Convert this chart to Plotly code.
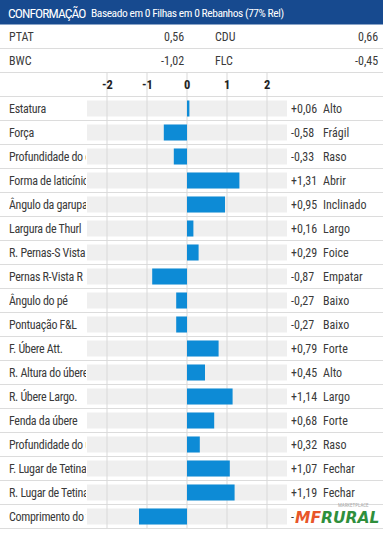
import plotly.graph_objects as go

# ---------------- data ----------------
title_main = "CONFORMAÇÃO"
title_sub = "Baseado em 0 Filhas em 0 Rebanhos (77% Rel)"

summary_left_names = ["PTAT", "BWC"]
summary_left_values = ["0,56", "-1,02"]
summary_right_names = ["CDU", "FLC"]
summary_right_values = ["0,66", "-0,45"]

traits = [
    "Estatura", "Força", "Profundidade do corpo", "Forma de laticínio",
    "Ângulo da garupa", "Largura de Thurl", "R. Pernas-S Vista",
    "Pernas R-Vista R", "Ângulo do pé", "Pontuação F&L", "F. Úbere Att.",
    "R. Altura do úbere", "R. Úbere Largo.", "Fenda da úbere",
    "Profundidade do úbere", "F. Lugar de Tetina", "R. Lugar de Tetina",
    "Comprimento do teto",
]
values = [0.06, -0.58, -0.33, 1.31, 0.95, 0.16, 0.29, -0.87, -0.27, -0.27,
          0.79, 0.45, 1.14, 0.68, 0.32, 1.07, 1.19, -1.20]
descriptors = ["Alto", "Frágil", "Raso", "Abrir", "Inclinado", "Largo", "Foice",
               "Empatar", "Baixo", "Baixo", "Forte", "Alto", "Largo", "Forte",
               "Raso", "Fechar", "Fechar", ""]
tick_values = [-2, -1, 0, 1, 2]
tick_labels = ["-2", "-1", "0", "1", "2"]

# ---------------- layout constants ----------------
W, H = 383, 533
ZERO_PX, UNIT_PX = 187, 40
ROW_PX, ROW0_PX = 24, 12.5
FIRST_TRAIT_ROW = 4
BAR_W = 16 / 24
FONT = "Roboto Condensed, DejaVu Sans Condensed, Roboto, sans-serif"
TXT = "#3a3a3a"
BLUE = "#0d8bd6"
GRID = "#d9d9d9"

def px(xp):
    return xp / W

def tight(s, ls):
    return "<span style='letter-spacing:%spx'>%s</span>" % (ls, s)

rows = [FIRST_TRAIT_ROW + i for i in range(len(traits))]
last_row = rows[-1]

fig = go.Figure()

fig.add_trace(go.Bar(
    x=values, y=rows, base=0, orientation="h", width=BAR_W,
    marker=dict(color=BLUE, line=dict(width=0)), hoverinfo="skip",
    showlegend=False,
))

shapes = []
# header band
shapes.append(dict(type="rect", xref="paper", yref="y", x0=0, x1=1,
                   y0=-0.6, y1=0.5, fillcolor="#174a8f", line=dict(width=0),
                   layer="below"))
# grey backgrounds
for r in rows:
    shapes.append(dict(type="rect", xref="x", yref="y", x0=-2.5, x1=2.5,
                       y0=r - BAR_W / 2, y1=r + BAR_W / 2,
                       fillcolor="#efefef", line=dict(width=0), layer="between"))
# vertical gridlines
for t in tick_values:
    shapes.append(dict(type="line", xref="x", yref="y", x0=t, x1=t,
                       y0=2.5, y1=last_row + 0.5,
                       line=dict(color=GRID, width=1), layer="between"))
# row separators
for r in range(1, last_row + 1):
    shapes.append(dict(type="line", xref="paper", yref="y", x0=0, x1=1,
                       y0=r + 0.5, y1=r + 0.5,
                       line=dict(color="#dcdcdc", width=1), layer="between"))

ann = []
ann.append(dict(xref="paper", yref="y", x=px(6), y=0, xanchor="left",
                yanchor="middle", showarrow=False,
                text=tight(title_main, -0.9),
                font=dict(family=FONT, size=13.5, color="white")))
ann.append(dict(xref="paper", yref="y", x=px(89), y=0, xanchor="left",
                yanchor="middle", showarrow=False,
                text=tight(title_sub, -0.45),
                font=dict(family=FONT, size=11.5, color="white")))

for i in range(2):
    r = 1 + i
    ann.append(dict(xref="paper", yref="y", x=px(7), y=r, xanchor="left",
                    yanchor="middle", showarrow=False, text=summary_left_names[i],
                    font=dict(family=FONT, size=12, color=TXT)))
    ann.append(dict(xref="paper", yref="y", x=px(186), y=r, xanchor="right",
                    yanchor="middle", showarrow=False, text=summary_left_values[i],
                    font=dict(family=FONT, size=12, color=TXT)))
    ann.append(dict(xref="paper", yref="y", x=px(213), y=r, xanchor="left",
                    yanchor="middle", showarrow=False, text=summary_right_names[i],
                    font=dict(family=FONT, size=12, color=TXT)))
    ann.append(dict(xref="paper", yref="y", x=px(380), y=r, xanchor="right",
                    yanchor="middle", showarrow=False, text=summary_right_values[i],
                    font=dict(family=FONT, size=12, color=TXT)))

for t, lab in zip(tick_values, tick_labels):
    ann.append(dict(xref="x", yref="y", x=t, y=3, xanchor="center",
                    yanchor="middle", showarrow=False, text="<b>" + lab + "</b>",
                    font=dict(family=FONT, size=12.5, color="#222")))

for r, name, v, d in zip(rows, traits, values, descriptors):
    ann.append(dict(xref="paper", yref="y", x=px(7), y=r, xanchor="left",
                    yanchor="middle", showarrow=False, text=tight(name, -0.3),
                    width=77, align="left",
                    font=dict(family=FONT, size=12, color=TXT)))
    s = ("+" if v >= 0 else "-") + ("%.2f" % abs(v)).replace(".", ",")
    ann.append(dict(xref="paper", yref="y", x=px(289), y=r, xanchor="left",
                    yanchor="middle", showarrow=False, text=s,
                    font=dict(family=FONT, size=12, color=TXT)))
    if d:
        ann.append(dict(xref="paper", yref="y", x=px(321), y=r, xanchor="left",
                        yanchor="middle", showarrow=False, text=d,
                        font=dict(family=FONT, size=12, color=TXT)))

# watermark
ann.append(dict(xref="paper", yref="y", x=px(294), y=last_row + 0.08,
                xanchor="left", yanchor="middle", showarrow=False,
                bgcolor="white", borderpad=0,
                text="<b><i><span style='color:#e8562a'>MF</span>"
                     "<span style='color:#2f8f3c'>RURAL</span></i></b>",
                font=dict(family="DejaVu Sans, sans-serif", size=15.5)))
ann.append(dict(xref="paper", yref="y", x=px(371), y=last_row - 0.47,
                xanchor="right", yanchor="middle", showarrow=False,
                text="MARKETPLACE", font=dict(family=FONT, size=5, color="#aaa")))

fig.update_layout(
    width=W, height=H, margin=dict(l=0, r=0, t=0, b=0),
    paper_bgcolor="white", plot_bgcolor="white",
    barmode="overlay",
    xaxis=dict(range=[-ZERO_PX / UNIT_PX, (W - ZERO_PX) / UNIT_PX],
               visible=False, fixedrange=True),
    yaxis=dict(range=[(H - ROW0_PX) / ROW_PX, -ROW0_PX / ROW_PX],
               visible=False, fixedrange=True),
    shapes=shapes, annotations=ann, showlegend=False,
)

fig.write_html("out.html", config={"displayModeBar": False},
               post_script="document.body.style.margin='0';"
                           "document.body.style.overflow='hidden';")
